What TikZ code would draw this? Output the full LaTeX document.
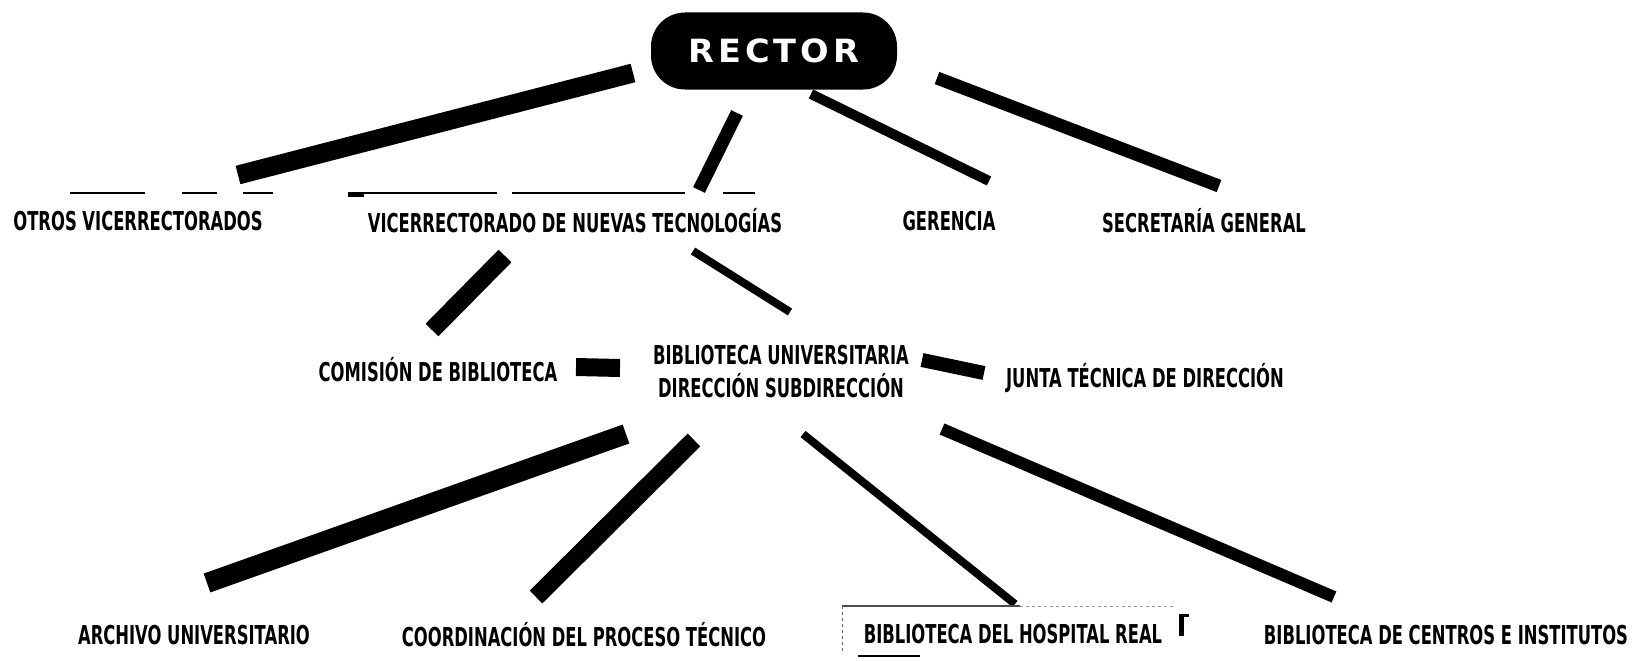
\documentclass[tikz,border=0pt]{standalone}
\usepackage{fontspec}
\setmainfont{DejaVu Sans}
\newfontfamily\labfont[FakeStretch=0.63]{DejaVu Sans Bold}
\newfontfamily\rectfont[FakeStretch=1.05,LetterSpace=12]{DejaVu Sans Bold}
\tikzset{
  lab/.style={font=\labfont\fontsize{26}{33}\selectfont, inner sep=0pt, align=center},
  bar/.style={line width=#1, line cap=butt, draw=black},
  thin rule/.style={line width=2pt, draw=black},
}
\begin{document}
\begin{tikzpicture}[x=1pt,y=-1pt]
\useasboundingbox (0,0) rectangle (1641,661);
% top
\node[fill=black, rounded corners=34pt, minimum width=246pt, minimum height=77pt, inner sep=0pt,
      text=white, font=\rectfont\fontsize{32}{34}\selectfont] (rector) at (774,51) {RECTOR};
% row 1
\node[lab] (otros) at (138,221) {OTROS VICERRECTORADOS};
\node[lab] (vnt) at (575,221) {VICERRECTORADO DE NUEVAS TECNOLOGÍAS};
\node[lab] (ger) at (949,221) {GERENCIA};
\node[lab] (sec) at (1204,221) {SECRETARÍA GENERAL};
% row 2
\node[lab] (com) at (438,370) {COMISIÓN DE BIBLIOTECA};
\node[lab, align=center] (bib) at (781,372) {BIBLIOTECA UNIVERSITARIA\\DIRECCIÓN SUBDIRECCIÓN};
\node[lab] (junta) at (1145,378) {JUNTA TÉCNICA DE DIRECCIÓN};
% row 3
\node[lab] (arch) at (194,635) {ARCHIVO UNIVERSITARIO};
\node[lab] (coord) at (584,635) {COORDINACIÓN DEL PROCESO TÉCNICO};
\node[lab] (hosp) at (1013,634) {BIBLIOTECA DEL HOSPITAL REAL};
\node[lab] (cent) at (1446,635) {BIBLIOTECA DE CENTROS E INSTITUTOS};
% connector end points
\coordinate (r1) at (633,73);   \coordinate (o1) at (238,175);
\coordinate (r2) at (737,113);  \coordinate (v1) at (699,190);
\coordinate (r3) at (811,94);   \coordinate (g1) at (989,181);
\coordinate (r4) at (937,78);   \coordinate (s1) at (1219,186);
\coordinate (v2) at (505,256);  \coordinate (c1) at (432,330);
\coordinate (v3) at (693,251);  \coordinate (b1) at (790,312);
\coordinate (c2) at (576,367);  \coordinate (b2) at (620,368);
\coordinate (b3) at (922,360);  \coordinate (j1) at (984,373);
\coordinate (b4) at (626,434);  \coordinate (a1) at (207,583);
\coordinate (b5) at (694,440);  \coordinate (k1) at (536,597);
\coordinate (b6) at (803,434);  \coordinate (h1) at (1015,604);
\coordinate (b7) at (942,429);  \coordinate (e1) at (1334,597);
% connectors (rector)
\draw[bar=19pt] (r1) -- (o1);
\draw[bar=13pt] (r2) -- (v1);
\draw[bar=10pt] (r3) -- (g1);
\draw[bar=13pt] (r4) -- (s1);
% connectors (vicerrectorado)
\draw[bar=18pt] (v2) -- (c1);
\draw[bar=8pt] (v3) -- (b1);
% side connectors
\draw[bar=18pt] (c2) -- (b2);
\draw[bar=14pt] (b3) -- (j1);
% connectors (biblioteca)
\draw[bar=20pt] (b4) -- (a1);
\draw[bar=18pt] (b5) -- (k1);
\draw[bar=8pt] (b6) -- (h1);
\draw[bar=12pt] (b7) -- (e1);
% rules under row 1
\draw[thin rule] (70,193) -- (145,193);
\draw[thin rule] (182,193) -- (217,193);
\draw[thin rule] (243,193) -- (273,193);
\draw[thin rule] (362,193) -- (497,193);
\draw[thin rule] (512,193) -- (685,193);
\draw[thin rule] (723,193) -- (755,193);
\draw[line width=5pt] (348,194) -- (364,194);
% partial frame around hospital label
\draw[line width=1.2pt, draw=black!70] (842,606) -- (1020,606);
\draw[line width=0.8pt, draw=black!40, dashed] (1020,606) -- (1176,606);
\draw[line width=0.8pt, draw=black!60, dashed] (842,606) -- (842,652);
\draw[line width=1.5pt] (858,656) -- (920,656);
\draw[line width=5pt] (1181,614) -- (1181,636);
\draw[line width=3pt] (1179,615) -- (1189,615);
\end{tikzpicture}
\end{document}
